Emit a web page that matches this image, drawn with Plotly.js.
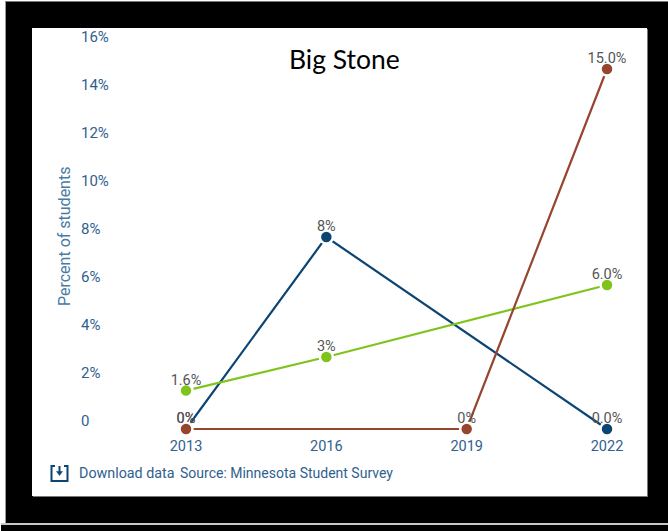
<!DOCTYPE html>
<html>
<head>
<meta charset="utf-8">
<script src="https://cdn.plot.ly/plotly-3.0.1.min.js"></script>
<style>
  html, body { margin: 0; padding: 0; width: 668px; height: 531px; overflow: hidden; background: #fff; }
  #frame { position: absolute; left: 5px; top: 1px; width: 663px; height: 522px; background: #000; border-top: 1px solid #777; border-left: 1px solid #999; box-sizing: border-box; }
  #rule { position: absolute; left: 1px; top: 523px; width: 667px; height: 2px; background: #c8c8c8; }
  #base { position: absolute; left: 1px; top: 525px; width: 667px; height: 6px; background: #000; }
  #chart { position: absolute; left: 32px; top: 28px; width: 615px; height: 468px; background: #fff; box-shadow: 1px 1px 0 #777; }
  #icon { position: absolute; left: 50px; top: 464px; }
</style>
</head>
<body>
<div id="frame"></div>
<div id="rule"></div>
<div id="base"></div>
<div id="chart"></div>
<svg id="icon" width="19" height="19" viewBox="0 0 19 19" fill="none" stroke="#0b4574" stroke-width="2">
  <path d="M5 2H1.5V17H17.5V2H14"/>
  <path d="M9.5 2V9" />
  <path d="M6.5 7.5L9.5 11.5L12.5 7.5Z" fill="#0b4574" stroke-width="0.5"/>
</svg>
<script>
// Percent of students in Big Stone, by survey year
const years = [2013, 2016, 2019, 2022];
const navyValues = [0, 8, null, 0];
const greenValues = [1.6, 3, null, 6];
const brownValues = [0, null, 0, 15];
const navyLabels = ['0%', '8%', '', '0.0%'];
const greenLabels = ['1.6%', '3%', '', '6.0%'];
const brownLabels = ['0%', '', '0%', '15.0%'];
const yTicks = [0, 2, 4, 6, 8, 10, 12, 14, 16];
const yTickLabels = ['0', '2%', '4%', '6%', '8%', '10%', '12%', '14%', '16%'];

const NAVY = '#0b4574', GREEN = '#7fc41c', BROWN = '#96452e';
const AXIS_TEXT = '#2f6190', LABEL_TEXT = '#555555';

const W = 615, H = 468;
const margin = { l: 46, r: 10, t: 0, b: 61, pad: 0 };
const px = v => (v - margin.l) / (W - margin.l - margin.r);
const py = v => 1 - (v - margin.t) / (H - margin.t - margin.b);

function series(values, color) {
  return {
    x: years, y: values,
    type: 'scatter', mode: 'lines+markers',
    connectgaps: true, cliponaxis: false,
    line: { color: color, width: 2.2 },
    marker: { color: color, size: 13, line: { color: '#fff', width: 2.5 } },
    hoverinfo: 'x+y', showlegend: false
  };
}

// Value labels sit on their own invisible points so they stay close to the dots
function labels(values, text) {
  return {
    x: years, y: values, text: text,
    type: 'scatter', mode: 'markers+text', cliponaxis: false,
    textposition: 'top center',
    textfont: { family: 'Roboto', size: 14.5, color: LABEL_TEXT },
    marker: { size: 2, opacity: 0 },
    hoverinfo: 'skip', showlegend: false
  };
}

const note = (text, x, y, extra) => Object.assign({
  text: text, xref: 'paper', yref: 'paper', x: px(x), y: py(y),
  showarrow: false, xanchor: 'left', yanchor: 'middle',
  font: { family: 'Roboto', size: 13, color: AXIS_TEXT }
}, extra || {});

const layout = {
  width: W, height: H, margin: margin,
  paper_bgcolor: '#fff', plot_bgcolor: '#fff',
  showlegend: false,
  xaxis: {
    range: [2010.691, 2022.641], tickmode: 'array', tickvals: years,
    showgrid: false, zeroline: false, showline: false, ticks: '',
    tickfont: { family: 'Roboto', size: 14.5, color: AXIS_TEXT }
  },
  yaxis: {
    range: [-0.25, 16.708], tickmode: 'array', tickvals: yTicks, ticktext: yTickLabels,
    ticklabelposition: 'inside', ticklabelshift: -8, ticklabeloverflow: 'allow',
    showgrid: false, zeroline: false, showline: false, ticks: '',
    tickfont: { family: 'Roboto', size: 15, color: AXIS_TEXT }
  },
  annotations: [
    note('Big Stone', 312, 31, { xanchor: 'center', font: { family: 'Lato', size: 26.5, color: '#000' } }),
    note('Percent of students', 32, 209, { xanchor: 'center', textangle: -90, font: { family: 'Roboto', size: 16, color: '#4a7ba3' } }),
    note('Download data', 45, 445, { font: { family: 'Roboto', size: 14.3, color: AXIS_TEXT } }),
    note('Source: Minnesota Student Survey', 146, 445, { font: { family: 'Roboto', size: 14, color: AXIS_TEXT } })
  ]
};

Plotly.newPlot('chart', [
  series(navyValues, NAVY),
  series(greenValues, GREEN),
  series(brownValues, BROWN),
  labels(navyValues, navyLabels),
  labels(greenValues, greenLabels),
  labels(brownValues, brownLabels)
], layout, { displayModeBar: false, staticPlot: true });
</script>
</body>
</html>
